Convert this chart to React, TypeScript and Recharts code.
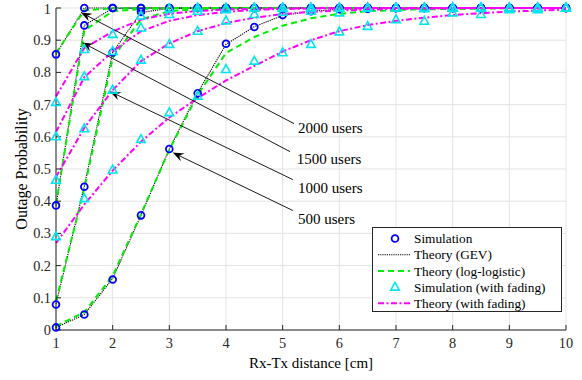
import React from 'react';
import { LineChart, Line, XAxis, YAxis, CartesianGrid, Legend, ReferenceLine, ReferenceDot } from 'recharts';

// distance samples [cm]
const distance = [1, 1.5, 2, 2.5, 3, 3.5, 4, 4.5, 5, 5.5, 6, 6.5, 7, 7.5, 8, 8.5, 9, 9.5, 10];
const xTicks = [1, 2, 3, 4, 5, 6, 7, 8, 9, 10];
const yTicks = [0, 0.1, 0.2, 0.3, 0.4, 0.5, 0.6, 0.7, 0.8, 0.9, 1];

const users = ['500', '1000', '1500', '2000'];

// simulation (circles)
const sim500 = [0.008, 0.048, 0.157, 0.356, 0.562, 0.735, 0.889, 0.941, 0.978, 0.99, 0.996, 0.998, 1, 1, 1, 1, 1, 1, 1];
const sim1000 = [0.079, 0.445, 0.862, 0.988, 1, 1, 1, 1, 1, 1, 1, 1, 1, 1, 1, 1, 1, 1, 1];
const sim1500 = [0.387, 0.946, 1, 1, 1, 1, 1, 1, 1, 1, 1, 1, 1, 1, 1, 1, 1, 1, 1];
const sim2000 = [0.856, 1, 1, 1, 1, 1, 1, 1, 1, 1, 1, 1, 1, 1, 1, 1, 1, 1, 1];

// theory (GEV)
const gev500 = [0.008, 0.048, 0.16, 0.356, 0.562, 0.737, 0.887, 0.942, 0.977, 0.99, 0.996, 0.998, 0.999, 1, 1, 1, 1, 1, 1];
const gev1000 = [0.08, 0.447, 0.862, 0.986, 0.999, 1, 1, 1, 1, 1, 1, 1, 1, 1, 1, 1, 1, 1, 1];
const gev1500 = [0.386, 0.946, 0.999, 1, 1, 1, 1, 1, 1, 1, 1, 1, 1, 1, 1, 1, 1, 1, 1];
const gev2000 = [0.856, 1, 1, 1, 1, 1, 1, 1, 1, 1, 1, 1, 1, 1, 1, 1, 1, 1, 1];

// theory (log-logistic)
const ll500 = [0.012, 0.055, 0.168, 0.36, 0.56, 0.73, 0.86, 0.91, 0.945, 0.968, 0.982, 0.99, 0.994, 0.996, 0.997, 0.998, 0.999, 0.999, 1];
const ll1000 = [0.09, 0.44, 0.845, 0.965, 0.99, 0.996, 0.998, 0.999, 1, 1, 1, 1, 1, 1, 1, 1, 1, 1, 1];
const ll1500 = [0.39, 0.93, 0.99, 0.997, 0.999, 1, 1, 1, 1, 1, 1, 1, 1, 1, 1, 1, 1, 1, 1];
const ll2000 = [0.86, 0.993, 0.999, 1, 1, 1, 1, 1, 1, 1, 1, 1, 1, 1, 1, 1, 1, 1, 1];

// simulation with fading (triangles)
const fs500 = [0.29, 0.408, 0.497, 0.592, 0.675, 0.726, 0.809, 0.835, 0.861, 0.887, 0.926, 0.943, 0.964, 0.959, 0.985, 0.98, 0.995, 0.995, 1];
const fs1000 = [0.465, 0.625, 0.745, 0.838, 0.887, 0.928, 0.96, 0.98, 0.987, 0.99, 0.985, 1, 1, 0.998, 1, 1, 1, 1, 1];
const fs1500 = [0.6, 0.787, 0.865, 0.938, 0.98, 0.99, 0.995, 1, 1, 1, 1, 1, 1, 1, 1, 1, 1, 1, 1];
const fs2000 = [0.707, 0.871, 0.918, 0.975, 0.998, 1, 1, 1, 1, 1, 1, 1, 1, 1, 1, 1, 1, 1, 1];

// theory with fading
const ft500 = [0.27, 0.39, 0.495, 0.585, 0.66, 0.72, 0.775, 0.82, 0.865, 0.9, 0.928, 0.947, 0.96, 0.97, 0.978, 0.984, 0.989, 0.992, 0.995];
const ft1000 = [0.475, 0.628, 0.745, 0.835, 0.89, 0.928, 0.953, 0.97, 0.981, 0.988, 0.992, 0.995, 0.997, 0.998, 0.999, 1, 1, 1, 1];
const ft1500 = [0.615, 0.785, 0.865, 0.928, 0.96, 0.978, 0.988, 0.994, 0.997, 0.998, 0.999, 1, 1, 1, 1, 1, 1, 1, 1];
const ft2000 = [0.725, 0.876, 0.927, 0.964, 0.982, 0.991, 0.995, 0.998, 0.999, 1, 1, 1, 1, 1, 1, 1, 1, 1, 1];

// annotations: label, tail of arrow, tip of arrow, text anchor (data coords)
const annotationLabels = ['2000 users', '1500 users', '1000 users', '500 users'];
const arrowTails = [[5.2, 0.641], [5.13, 0.554], [5.18, 0.467], [5.18, 0.371]];
const arrowTips = [[1.44, 0.986], [1.46, 0.893], [1.95, 0.741], [3.06, 0.551]];
const labelPos = [[5.27, 0.629], [5.25, 0.533], [5.27, 0.443], [5.27, 0.346]];

const series: Record<string, number[]> = {
  sim500, sim1000, sim1500, sim2000,
  gev500, gev1000, gev1500, gev2000,
  ll500, ll1000, ll1500, ll2000,
  fs500, fs1000, fs1500, fs2000,
  ft500, ft1000, ft1500, ft2000,
};

const data = distance.map((x, i) => {
  const row: Record<string, number> = { x };
  Object.keys(series).forEach((k) => { row[k] = series[k][i]; });
  return row;
});

const FONT = 'Liberation Serif, Times New Roman, Times, serif';
const AXIS = '#262626';
const BLUE = '#0000ff';
const GREEN = '#00ee00';
const CYAN = '#00e5ee';
const MAGENTA = '#ff00ff';

const Triangle = (props: any) => {
  const { cx, cy } = props;
  if (cx == null || cy == null) return null;
  return (
    <polygon
      points={`${cx},${cy - 4.8} ${cx - 4.3},${cy + 3} ${cx + 4.3},${cy + 3}`}
      fill="none"
      stroke={CYAN}
      strokeWidth={1.6}
    />
  );
};

const Arrow = (props: any) => {
  const { x1, y1, x2, y2 } = props;
  const a = Math.atan2(y2 - y1, x2 - x1);
  const c = Math.cos(a), s = Math.sin(a);
  const L = 11, W = 4.2;
  const bx = x2 - L * c, by = y2 - L * s;
  const nx = x2 - L * 0.65 * c, ny = y2 - L * 0.65 * s;
  return (
    <g>
      <line x1={x1} y1={y1} x2={nx} y2={ny} stroke="#000" strokeWidth={0.9} />
      <polygon
        points={`${x2},${y2} ${bx - W * s},${by + W * c} ${nx},${ny} ${bx + W * s},${by - W * c}`}
        fill="#000"
      />
    </g>
  );
};

const YLabel = (props: any) => {
  const { viewBox } = props;
  const cx = 21;
  const cy = viewBox.y + viewBox.height / 2;
  return (
    <text x={cx} y={cy} dy="0.35em" transform={`rotate(-90, ${cx}, ${cy})`} textAnchor="middle" fontFamily={FONT} fontSize={16} fill="#000">
      Outage Probability
    </text>
  );
};

const XLabel = (props: any) => {
  const { viewBox } = props;
  const cx = viewBox.x + viewBox.width / 2;
  return (
    <text x={cx} y={368} textAnchor="middle" fontFamily={FONT} fontSize={15} fill="#000">
      Rx-Tx distance [cm]
    </text>
  );
};

const legendItems = [
  { label: 'Simulation', kind: 'circle' },
  { label: 'Theory (GEV)', kind: 'gev' },
  { label: 'Theory (log-logistic)', kind: 'll' },
  { label: 'Simulation (with fading)', kind: 'tri' },
  { label: 'Theory (with fading)', kind: 'fade' },
];

const renderLegend = () => (
  <div style={{ width: 190, height: 85, border: `1px solid ${AXIS}`, background: '#fff', boxSizing: 'border-box' }}>
    <svg width={188} height={83} style={{ display: 'block' }}>
      {legendItems.map((item, i) => {
        const cy = 10.5 + i * 16.2;
        return (
          <g key={item.label}>
            {item.kind === 'circle' && <circle cx={22} cy={cy} r={3.4} fill="none" stroke={BLUE} strokeWidth={1.8} />}
            {item.kind === 'gev' && <line x1={5} x2={37} y1={cy} y2={cy} stroke="#000" strokeWidth={1.1} strokeDasharray="1.2 1" />}
            {item.kind === 'll' && <line x1={5} x2={37} y1={cy} y2={cy} stroke={GREEN} strokeWidth={2} strokeDasharray="6 4" />}
            {item.kind === 'tri' && <Triangle cx={22} cy={cy} />}
            {item.kind === 'fade' && <line x1={5} x2={37} y1={cy} y2={cy} stroke={MAGENTA} strokeWidth={2} strokeDasharray="6 2.5 2 2.5" />}
            <text x={41} y={cy} dy="0.35em" fontFamily={FONT} fontSize={13.3} fill="#000">{item.label}</text>
          </g>
        );
      })}
    </svg>
  </div>
);

export default function App() {
  const tickStyle = { fill: AXIS, fontSize: 14.3, fontFamily: FONT };
  return (
    <div style={{ position: 'absolute', left: 0, top: 0, width: 582, height: 380, background: '#fff', fontFamily: FONT }}>
      <LineChart width={582} height={380} data={data} margin={{ top: 8, right: 16, bottom: 10, left: 0 }} style={{ fontFamily: FONT }}>
        <CartesianGrid stroke="#e3e3e3" strokeWidth={1} />
        <XAxis
          dataKey="x"
          type="number"
          domain={[1, 10]}
          ticks={xTicks}
          height={40}
          tickSize={-5}
          tickMargin={13}
          stroke={AXIS}
          tick={tickStyle}
          label={<XLabel />}
        />
        <XAxis xAxisId="top" orientation="top" dataKey="x" type="number" domain={[1, 10]} ticks={xTicks} height={0} tickSize={-5} tick={false} stroke={AXIS} />
        <YAxis
          type="number"
          domain={[0, 1]}
          ticks={yTicks}
          width={56}
          tickSize={-5}
          tickMargin={10}
          stroke={AXIS}
          tick={tickStyle}
          label={<YLabel />}
        />
        <YAxis yAxisId="right" orientation="right" type="number" domain={[0, 1]} ticks={yTicks} width={0} tickSize={-5} tick={false} stroke={AXIS} />

        {users.map((u) => (
          <Line key={`gev${u}`} dataKey={`gev${u}`} type="linear" stroke="#000" strokeWidth={1.1} strokeDasharray="1.2 1" dot={false} isAnimationActive={false} />
        ))}
        {users.map((u) => (
          <Line key={`ll${u}`} dataKey={`ll${u}`} type="linear" stroke={GREEN} strokeWidth={2} strokeDasharray="6 4" dot={false} isAnimationActive={false} />
        ))}
        {users.map((u) => (
          <Line key={`sim${u}`} dataKey={`sim${u}`} type="linear" stroke="none" dot={{ r: 3.4, fill: 'none', stroke: BLUE, strokeWidth: 1.8 }} isAnimationActive={false} />
        ))}
        {users.map((u) => (
          <Line key={`ft${u}`} dataKey={`ft${u}`} type="linear" stroke={MAGENTA} strokeWidth={2} strokeDasharray="6 2.5 2 2.5" dot={false} isAnimationActive={false} />
        ))}
        {users.map((u) => (
          <Line key={`fs${u}`} dataKey={`fs${u}`} type="linear" stroke="none" dot={<Triangle />} isAnimationActive={false} />
        ))}

        {annotationLabels.map((lbl, i) => (
          <ReferenceLine
            key={`arrow-${lbl}`}
            segment={[{ x: arrowTails[i][0], y: arrowTails[i][1] }, { x: arrowTips[i][0], y: arrowTips[i][1] }]}
            shape={<Arrow />}
          />
        ))}
        {annotationLabels.map((lbl, i) => (
          <ReferenceDot
            key={`label-${lbl}`}
            x={labelPos[i][0]}
            y={labelPos[i][1]}
            r={0}
            shape={(p: any) => (
              <text x={p.cx} y={p.cy} dy="0.35em" fontFamily={FONT} fontSize={15} fill="#000">{lbl}</text>
            )}
          />
        ))}

        <Legend
          layout="vertical"
          align="center"
          verticalAlign="middle"
          content={renderLegend}
          wrapperStyle={{ position: 'absolute', left: 372, top: 227, width: 190, height: 85 }}
        />
      </LineChart>
    </div>
  );
}
